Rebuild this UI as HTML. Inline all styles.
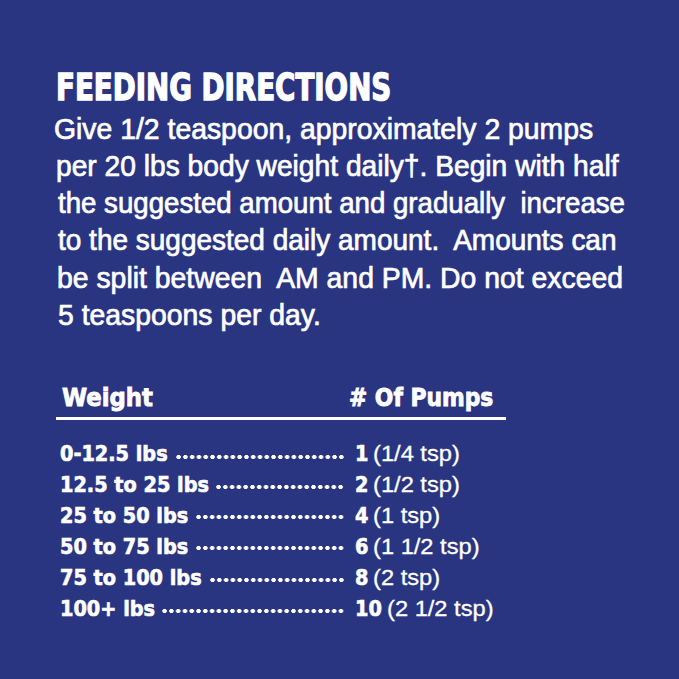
<!DOCTYPE html>
<html><head><meta charset="utf-8">
<style>
html,body{margin:0;padding:0;}
body{width:679px;height:679px;background:#2a3582;position:relative;overflow:hidden;color:#fff;font-family:"Liberation Sans",sans-serif;}
.a{position:absolute;white-space:pre;line-height:1;transform-origin:0 0;}
.t{font-weight:700;font-size:36.6px;font-family:"DejaVu Sans","Liberation Sans",sans-serif;-webkit-text-stroke:1.5px #fff;}
.b{font-size:29px;-webkit-text-stroke:0.7px #fff;}
.h{font-weight:700;font-size:25.3px;font-family:"DejaVu Sans","Liberation Sans",sans-serif;-webkit-text-stroke:0.9px #fff;}
.r{font-weight:700;font-size:21.8px;font-family:"DejaVu Sans","Liberation Sans",sans-serif;-webkit-text-stroke:0.7px #fff;}
.p{font-weight:400;font-size:22px;font-family:"Liberation Sans",sans-serif;-webkit-text-stroke:0.3px #fff;}
.rule{position:absolute;left:56px;top:417px;width:450px;height:3px;background:#fff;}
.dots{position:absolute;height:8px;background-image:radial-gradient(circle,#fff 1.9px,rgba(255,255,255,0) 2.5px);background-size:6.79px 8px;background-repeat:repeat-x;background-position:right 0;}
</style></head><body>

<div class="a t" style="--w:335.27;left:56.3px;top:69.72px;transform:scaleX(0.757);">FEEDING DIRECTIONS</div>
<div class="a b" style="--w:539.18;left:54.04px;top:114.55px;transform:scaleX(0.978);">Give 1/2 teaspoon, approximately 2 pumps</div>
<div class="a b" style="--w:562.54;left:56.26px;top:151.65px;transform:scaleX(0.972);">per 20 lbs body weight daily†. Begin with half</div>
<div class="a b" style="--w:566.95;left:57.85px;top:188.55px;transform:scaleX(0.953);">the suggested amount and gradually  increase</div>
<div class="a b" style="--w:558.51;left:57.83px;top:226.25px;transform:scaleX(0.965);">to the suggested daily amount.  Amounts can</div>
<div class="a b" style="--w:566.00;left:57.44px;top:263.65px;transform:scaleX(0.978);">be split between  AM and PM. Do not exceed</div>
<div class="a b" style="--w:262.79;left:58.34px;top:301.35px;transform:scaleX(0.978);">5 teaspoons per day.</div>
<div class="a h" style="--w:90.94;left:62.3px;top:384.98px;transform:scaleX(0.90);">Weight</div>
<div class="a h" style="--w:144.30;left:349px;top:384.98px;transform:scaleX(0.862);"># Of Pumps</div>
<div class="rule"></div>
<div class="a r" style="--w:107.65;left:59.5px;top:442.95px;transform:scaleX(0.885);">0-12.5 lbs</div>
<div class="dots" style="left:174.65px;width:169.75px;top:453.00px;"></div>
<div class="a r" style="--w:13.43;left:354.60px;top:442.95px;transform:scaleX(0.885);">1</div>
<div class="a p" style="--w:86.84;left:373.00px;top:442.98px;transform:scaleX(1.076);">(1/4 tsp)</div>
<div class="a r" style="--w:148.97;left:59.5px;top:473.90px;transform:scaleX(0.885);">12.5 to 25 lbs</div>
<div class="dots" style="left:215.39px;width:129.01px;top:482.60px;"></div>
<div class="a r" style="--w:13.43;left:354.60px;top:473.90px;transform:scaleX(0.885);">2</div>
<div class="a p" style="--w:86.84;left:373.00px;top:473.93px;transform:scaleX(1.076);">(1/2 tsp)</div>
<div class="a r" style="--w:128.21;left:59.5px;top:504.85px;transform:scaleX(0.885);">25 to 50 lbs</div>
<div class="dots" style="left:195.02px;width:149.38px;top:512.90px;"></div>
<div class="a r" style="--w:13.43;left:354.60px;top:504.85px;transform:scaleX(0.885);">4</div>
<div class="a p" style="--w:67.10;left:373.00px;top:504.88px;transform:scaleX(1.076);">(1 tsp)</div>
<div class="a r" style="--w:128.21;left:59.5px;top:535.80px;transform:scaleX(0.885);">50 to 75 lbs</div>
<div class="dots" style="left:195.02px;width:149.38px;top:544.20px;"></div>
<div class="a r" style="--w:13.43;left:354.60px;top:535.80px;transform:scaleX(0.885);">6</div>
<div class="a p" style="--w:106.57;left:373.00px;top:535.83px;transform:scaleX(1.076);">(1 1/2 tsp)</div>
<div class="a r" style="--w:141.64;left:59.5px;top:566.75px;transform:scaleX(0.885);">75 to 100 lbs</div>
<div class="dots" style="left:208.60px;width:135.80px;top:575.50px;"></div>
<div class="a r" style="--w:13.43;left:354.60px;top:566.75px;transform:scaleX(0.885);">8</div>
<div class="a p" style="--w:67.10;left:373.00px;top:566.78px;transform:scaleX(1.076);">(2 tsp)</div>
<div class="a r" style="--w:95.05;left:59.5px;top:597.70px;transform:scaleX(0.885);">100+ lbs</div>
<div class="dots" style="left:161.07px;width:183.33px;top:607.00px;"></div>
<div class="a r" style="--w:26.85;left:354.60px;top:597.70px;transform:scaleX(0.885);">10</div>
<div class="a p" style="--w:106.57;left:386.50px;top:597.73px;transform:scaleX(1.076);">(2 1/2 tsp)</div>
<script>
(function(){try{document.querySelectorAll('.a').forEach(function(el){
var tw=parseFloat(el.style.getPropertyValue('--w'));if(!tw)return;
var t=el.style.transform;el.style.transform='none';
var w=el.getBoundingClientRect().width;el.style.transform=t;if(!w)return;
var m=/scaleX\(([\d.]+)\)/.exec(t);var cur=m?parseFloat(m[1]):1;var s=tw/w;
if(Math.abs(s/cur-1)>0.01)el.style.transform='scaleX('+s.toFixed(4)+')';});}catch(e){}})();
</script>
</body></html>
